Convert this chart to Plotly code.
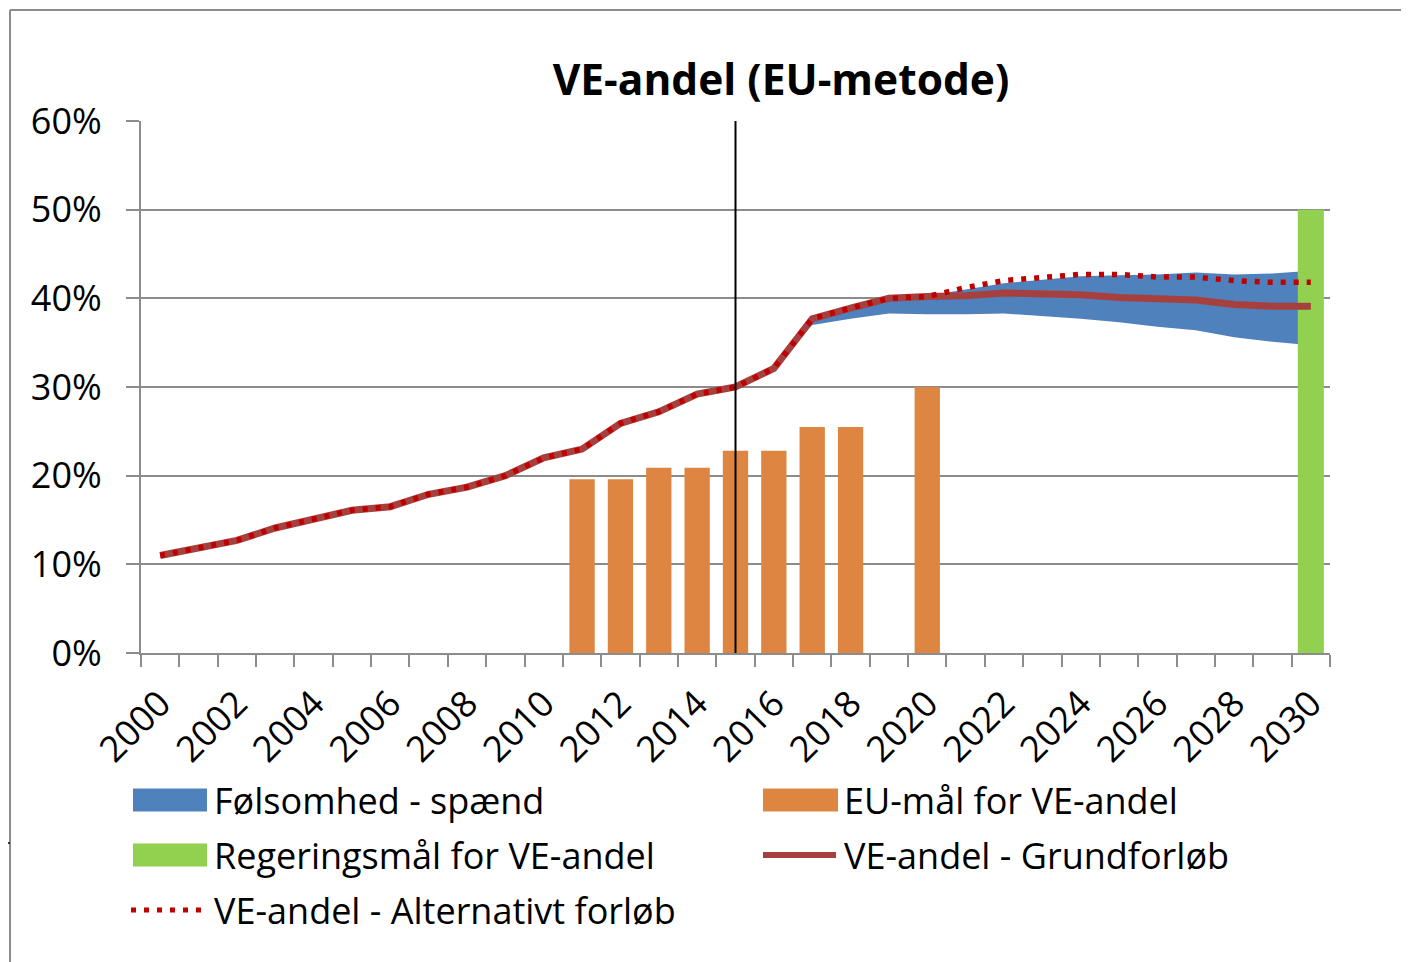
import plotly.graph_objects as go

# ---------------- data ----------------
years = list(range(2000, 2031))
base_share = [11.0, 11.8, 12.7, 14.1, 15.1, 16.1, 16.5, 17.9, 18.7, 20.0,
              22.0, 23.0, 25.9, 27.2, 29.2, 30.0, 32.1, 37.7, 38.9, 40.0,
              40.2, 40.3, 40.6, 40.5, 40.4, 40.1, 39.9, 39.8, 39.3, 39.1, 39.1]
alt_share = [11.0, 11.8, 12.7, 14.1, 15.1, 16.1, 16.5, 17.9, 18.7, 20.0,
             22.0, 23.0, 25.9, 27.2, 29.2, 30.0, 32.1, 37.7, 38.9, 40.0,
             40.2, 41.2, 42.0, 42.4, 42.7, 42.7, 42.4, 42.4, 42.0, 41.8, 41.8]
band_years = list(range(2016, 2031))
band_low = [32.1, 37.0, 37.7, 38.3, 38.2, 38.2, 38.3, 38.0, 37.7, 37.3,
            36.8, 36.4, 35.6, 35.1, 34.7]
band_high = [32.1, 37.7, 38.9, 40.0, 40.3, 41.0, 41.7, 42.1, 42.5, 42.6,
             42.7, 42.9, 42.7, 42.8, 43.1]
eu_years = [2011, 2012, 2013, 2014, 2015, 2016, 2017, 2018, 2020]
eu_target = [19.6, 19.6, 20.9, 20.9, 22.8, 22.8, 25.5, 25.5, 30.0]
gov_years = [2030]
gov_target = [50.0]
tick_years = list(range(2000, 2031, 2))
y_ticks = [0, 10, 20, 30, 40, 50, 60]
y_ticktext = ["0%", "10%", "20%", "30%", "40%", "50%", "60%"]
marker_year = 2015

names = ["Følsomhed - spænd", "EU-mål for VE-andel", "Regeringsmål for VE-andel",
         "VE-andel - Grundforløb", "VE-andel - Alternativt forløb"]

# ---------------- style ----------------
OFF = 8                      # page body margin
SW, SH = 1409, 962           # screen size
L, R, T, B = 141, 1330, 121, 653   # plot area in screen px
W, H = SW - OFF, SH - OFF
FONT = "Open Sans"
FS = 36
BLUE = "#4F81BD"
ORANGE = "#DE8541"
GREEN = "#92D050"
DARKRED = "#A6403E"
RED = "#C00000"
GRID = "#8C8C8C"

def px(xp):
    return (xp - L) / (R - L)

def py(yp):
    return (B - yp) / (B - T)

xr = [1999.5, 2030.5]
yr = [0, 60]

fig = go.Figure()

# band (base subplot)
fig.add_trace(go.Scatter(x=band_years, y=band_low, mode="lines", line=dict(width=0),
                         showlegend=False, hoverinfo="skip"))
fig.add_trace(go.Scatter(x=band_years, y=band_high, mode="lines", line=dict(width=0),
                         fill="tonexty", fillcolor=BLUE, name=names[0], showlegend=False))

# bars (overlay 2)
fig.add_trace(go.Bar(x=eu_years, y=eu_target, width=0.66, marker=dict(color=ORANGE, line=dict(width=0)),
                     name=names[1], showlegend=False, xaxis="x2", yaxis="y2"))
fig.add_trace(go.Bar(x=gov_years, y=gov_target, width=0.68, marker=dict(color=GREEN, line=dict(width=0)),
                     name=names[2], showlegend=False, xaxis="x2", yaxis="y2"))

# lines (overlay 3)
fig.add_trace(go.Scatter(x=years, y=base_share, mode="lines", line=dict(color=DARKRED, width=7),
                         name=names[3], showlegend=False, xaxis="x3", yaxis="y3"))
fig.add_trace(go.Scatter(x=years, y=alt_share, mode="lines",
                         line=dict(color=RED, width=5.5, dash="5px,8px"),
                         name=names[4], showlegend=False, xaxis="x3", yaxis="y3"))

hidden_x = dict(range=xr, visible=False, fixedrange=True)
hidden_y = dict(range=yr, visible=False, fixedrange=True)

fig.update_layout(
    width=W, height=H,
    margin=dict(l=L - OFF, r=W - (R - OFF), t=T - OFF, b=H - (B - OFF), pad=0),
    paper_bgcolor="white", plot_bgcolor="white",
    font=dict(family=FONT, size=FS, color="black"),
    title=dict(text="<b>VE-andel (EU-metode)</b>", x=(781 - OFF) / W, xanchor="center",
               y=1 - (80 - OFF) / H, yanchor="middle", font=dict(family=FONT, size=42.5, color="black")),
    barmode="overlay",
    xaxis=dict(range=xr, tickmode="array", tickvals=tick_years, ticktext=[str(y) for y in tick_years],
               tickangle=-45, ticks="outside", ticklen=13, tickcolor="rgba(0,0,0,0)",
               showgrid=False, zeroline=False, showline=True, linecolor=GRID, linewidth=2,
               tickfont=dict(family=FONT, size=FS, color="black"),
               minor=dict(tickvals=[y - 0.5 for y in years] + [2030.5], ticks="outside",
                          ticklen=12, tickwidth=2, tickcolor=GRID, showgrid=False),
               fixedrange=True),
    yaxis=dict(range=yr, tickmode="array", tickvals=y_ticks, ticktext=y_ticktext,
               ticks="outside", ticklen=13, tickwidth=2, tickcolor=GRID,
               ticklabelstandoff=17,
               showgrid=True, gridcolor=GRID, gridwidth=2, zeroline=False,
               showline=True, linecolor=GRID, linewidth=2,
               tickfont=dict(family=FONT, size=FS, color="black"), fixedrange=True),
    xaxis2=dict(overlaying="x", **hidden_x),
    yaxis2=dict(overlaying="y", **hidden_y),
    xaxis3=dict(overlaying="x", **hidden_x),
    yaxis3=dict(overlaying="y", **hidden_y),
    showlegend=False,
)

shapes = []
# vertical marker line at 2015
shapes.append(dict(type="line", xref="x", yref="paper", x0=marker_year, x1=marker_year, y0=0, y1=1,
                   line=dict(color="black", width=2), layer="above"))
# outer frame (top + left)
shapes.append(dict(type="line", xref="paper", yref="paper", x0=px(10), x1=px(SW + 5), y0=py(10), y1=py(10),
                   line=dict(color=GRID, width=2)))
shapes.append(dict(type="line", xref="paper", yref="paper", x0=px(10), x1=px(10), y0=py(10), y1=py(SH + 5),
                   line=dict(color=GRID, width=2)))
shapes.append(dict(type="line", xref="paper", yref="paper", x0=px(OFF), x1=px(10), y0=py(843), y1=py(843),
                   line=dict(color="black", width=1.5)))

# legend swatches
rows = [800, 855, 910]
def rect(x0, x1, yc, color):
    return dict(type="rect", xref="paper", yref="paper", x0=px(x0), x1=px(x1),
                y0=py(yc + 11.5), y1=py(yc - 11.5), fillcolor=color, line=dict(width=0))
shapes.append(rect(133, 207, rows[0], BLUE))
shapes.append(rect(763, 838, rows[0], ORANGE))
shapes.append(rect(133, 207, rows[1], GREEN))
shapes.append(dict(type="line", xref="paper", yref="paper", x0=px(763), x1=px(836), y0=py(rows[1]), y1=py(rows[1]),
                   line=dict(color=DARKRED, width=6)))
shapes.append(dict(type="line", xref="paper", yref="paper", x0=px(131), x1=px(204), y0=py(rows[2]), y1=py(rows[2]),
                   line=dict(color=RED, width=5, dash="5px,8px")))
fig.update_layout(shapes=shapes)

ann = []
legend_pos = [(212, rows[0]), (842, rows[0]), (212, rows[1]), (842, rows[1]), (212, rows[2])]
for name, (lx, ly) in zip(names, legend_pos):
    ann.append(dict(text=name, xref="paper", yref="paper", x=px(lx), y=py(ly), xanchor="left",
                    yanchor="middle", showarrow=False, font=dict(family=FONT, size=FS, color="black")))
fig.update_layout(annotations=ann)

fig.write_html("out.html")
